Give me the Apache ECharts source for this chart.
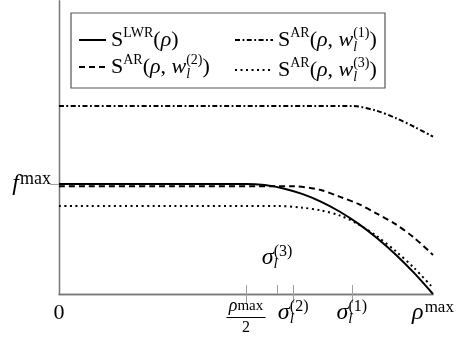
<!DOCTYPE html>
<html>
<head>
<meta charset="utf-8">
<script src="https://cdn.jsdelivr.net/npm/echarts@6/dist/echarts.min.js"></script>
<style>html,body{margin:0;padding:0;background:#fff}</style>
</head>
<body>
<div id="chart" style="width:464px;height:343px"></div>
<script>
// densities in units of rho_max, fluxes in units of f_max
const sigma3 = 0.583, sigma2 = 0.626, sigma1 = 0.783;

const lwrRho = [0, 0.25, 0.5, 0.55, 0.6, 0.65, 0.7, 0.75, 0.8, 0.85, 0.9, 0.95, 1.0];
const lwrVal = [1.0, 1.0, 1.0, 0.99, 0.96, 0.91, 0.84, 0.75, 0.64, 0.51, 0.36, 0.19, 0];

const w1Rho = [0, 0.4, 0.783, 0.85, 0.9, 0.95, 1.0];
const w1Val = [1.71, 1.71, 1.71, 1.665, 1.60, 1.52, 1.43];

const w2Rho = [0, 0.3, 0.626, 0.7, 0.75, 0.8, 0.85, 0.9, 0.95, 1.0];
const w2Val = [0.98, 0.98, 0.98, 0.945, 0.885, 0.82, 0.73, 0.635, 0.51, 0.355];

const w3Rho = [0, 0.3, 0.583, 0.65, 0.7, 0.75, 0.8, 0.85, 0.9, 0.95, 1.0];
const w3Val = [0.8, 0.8, 0.8, 0.785, 0.76, 0.715, 0.635, 0.525, 0.39, 0.235, 0.055];

const xLabelPos = [0, 0.5, sigma2, sigma1, 1];
const xLabelText = [
  '{z|0}',
  '{fr|ρ}{fsp|max}\n{bar| }\n{fd|2}',
  '{si|σ}{asb|l}{asp2|(2)}',
  '{si|σ}{asb|l}{asp2|(1)}',
  '{si|ρ}{asp|max}'
];
const legendText = {
  LWR: '{n|S}{sp|LWR}{n|(}{i|ρ}{n|)}',
  w1: '{n|S}{sp|AR}{n|(}{i|ρ}{n|, }{i|w}{sb|l}{sp2|(1)}{n|)}',
  w2: '{n|S}{sp|AR}{n|(}{i|ρ}{n|, }{i|w}{sb|l}{sp2|(2)}{n|)}',
  w3: '{n|S}{sp|AR}{n|(}{i|ρ}{n|, }{i|w}{sb|l}{sp2|(3)}{n|)}'
};

const F = 'Liberation Serif';
const rich = {
  // legend
  n: {fontFamily: F, fontSize: 22, lineHeight: 28, color: '#000'},
  i: {fontFamily: F, fontSize: 22, lineHeight: 28, fontStyle: 'italic', color: '#000'},
  sp: {fontFamily: F, fontSize: 14, color: '#000', verticalAlign: 'top'},
  sp2: {fontFamily: F, fontSize: 14, color: '#000', verticalAlign: 'top', padding: [0, 0, 0, -4]},
  sb: {fontFamily: F, fontSize: 14, fontStyle: 'italic', color: '#000', verticalAlign: 'bottom'},
  // axes
  z: {fontFamily: F, fontSize: 22, lineHeight: 28, color: '#000'},
  si: {fontFamily: F, fontSize: 24, lineHeight: 28, fontStyle: 'italic', color: '#000'},
  asp: {fontFamily: F, fontSize: 17, color: '#000', verticalAlign: 'top', padding: [0, 0, 0, 1]},
  asp2: {fontFamily: F, fontSize: 16, color: '#000', verticalAlign: 'top', padding: [0, 0, 0, -4]},
  asb: {fontFamily: F, fontSize: 15, fontStyle: 'italic', color: '#000', verticalAlign: 'bottom'},
  fr: {fontFamily: F, fontSize: 18, lineHeight: 16, fontStyle: 'italic', color: '#000', verticalAlign: 'bottom'},
  fsp: {fontFamily: F, fontSize: 15, lineHeight: 16, color: '#000', verticalAlign: 'top'},
  bar: {width: 39, height: 1.2, lineHeight: 5, backgroundColor: '#000'},
  fd: {fontFamily: F, fontSize: 16, lineHeight: 16, color: '#000'},
  fi: {fontFamily: F, fontSize: 24, lineHeight: 28, fontStyle: 'italic', color: '#000'},
  fsp2: {fontFamily: F, fontSize: 18, color: '#000', verticalAlign: 'top', padding: [0, 0, 0, 1]}
};

function pairs(xs, ys) {
  return xs.map((x, k) => [x, ys[k]]);
}

const frame = {show: true, lineStyle: {color: '#7a7a7a', width: 1.3}};
const tickStyle = {color: '#a0a0a0', width: 1};

const chart = echarts.init(document.getElementById('chart'));
chart.setOption({
  animation: false,
  color: ['#000'],
  grid: {left: 59, right: 31, top: 1, bottom: 49, containLabel: false, outerBoundsMode: 'none'},
  legend: [{
    left: 78, top: 26, orient: 'vertical', padding: 0, itemGap: 2,
    itemWidth: 27, itemHeight: 10, itemStyle: {opacity: 0},
    data: ['LWR', 'w2'],
    formatter: name => legendText[name],
    textStyle: {rich: rich}
  }, {
    left: 234, top: 26, orient: 'vertical', padding: 0, itemGap: 2,
    itemWidth: 38, itemHeight: 10, itemStyle: {opacity: 0},
    data: ['w1', 'w3'],
    formatter: name => legendText[name],
    textStyle: {rich: rich}
  }],
  graphic: [{
    type: 'rect', shape: {x: 71, y: 13, width: 314, height: 75},
    style: {fill: 'none', stroke: '#555', lineWidth: 1.2}
  }],
  xAxis: [{
    type: 'value', min: 0, max: 1, position: 'bottom',
    axisLine: frame, splitLine: {show: false},
    axisTick: {show: true, inside: true, length: 9, customValues: [0.5, sigma3, sigma2, sigma1], lineStyle: tickStyle},
    axisLabel: {
      customValues: xLabelPos, margin: 5, hideOverlap: false,
      formatter: v => xLabelText[xLabelPos.indexOf(v)],
      rich: rich
    }
  }, {
    type: 'value', min: 0, max: 1, position: 'top',
    axisLine: frame, splitLine: {show: false},
    axisTick: {show: true, inside: true, length: 9, customValues: [0.5, sigma2, sigma1], lineStyle: tickStyle},
    axisLabel: {show: false}
  }, {
    type: 'value', min: 0, max: 1, position: 'bottom',
    axisLine: {show: false}, axisTick: {show: false}, splitLine: {show: false},
    axisLabel: {
      inside: true, margin: 22, customValues: [sigma3], hideOverlap: false,
      formatter: () => '{si|σ}{asb|l}{asp2|(3)}',
      rich: rich
    }
  }],
  yAxis: [{
    type: 'value', min: 0, max: 2.664, position: 'left',
    axisLine: frame, splitLine: {show: false},
    axisTick: {show: true, inside: true, length: 9, customValues: [1], lineStyle: tickStyle},
    axisLabel: {customValues: [1], margin: 8, formatter: () => '{fi|f}{fsp2|max}', rich: rich}
  }, {
    type: 'value', min: 0, max: 2.664, position: 'right',
    axisLine: frame, splitLine: {show: false},
    axisTick: {show: true, inside: true, length: 9, customValues: [1], lineStyle: tickStyle},
    axisLabel: {show: false}
  }],
  series: [{
    name: 'LWR', type: 'line', data: pairs(lwrRho, lwrVal), smooth: 0.3,
    symbol: 'none', lineStyle: {color: '#000', width: 2, type: 'solid'}
  }, {
    name: 'w1', type: 'line', data: pairs(w1Rho, w1Val), smooth: 0.3,
    symbol: 'none', lineStyle: {color: '#000', width: 2, type: [5, 2.5, 1.8, 2.5]}
  }, {
    name: 'w2', type: 'line', data: pairs(w2Rho, w2Val), smooth: 0.3,
    symbol: 'none', lineStyle: {color: '#000', width: 2, type: [6, 4]}
  }, {
    name: 'w3', type: 'line', data: pairs(w3Rho, w3Val), smooth: 0.3,
    symbol: 'none', lineStyle: {color: '#000', width: 2, type: [2, 3.5]}
  }]
});
</script>
</body>
</html>
